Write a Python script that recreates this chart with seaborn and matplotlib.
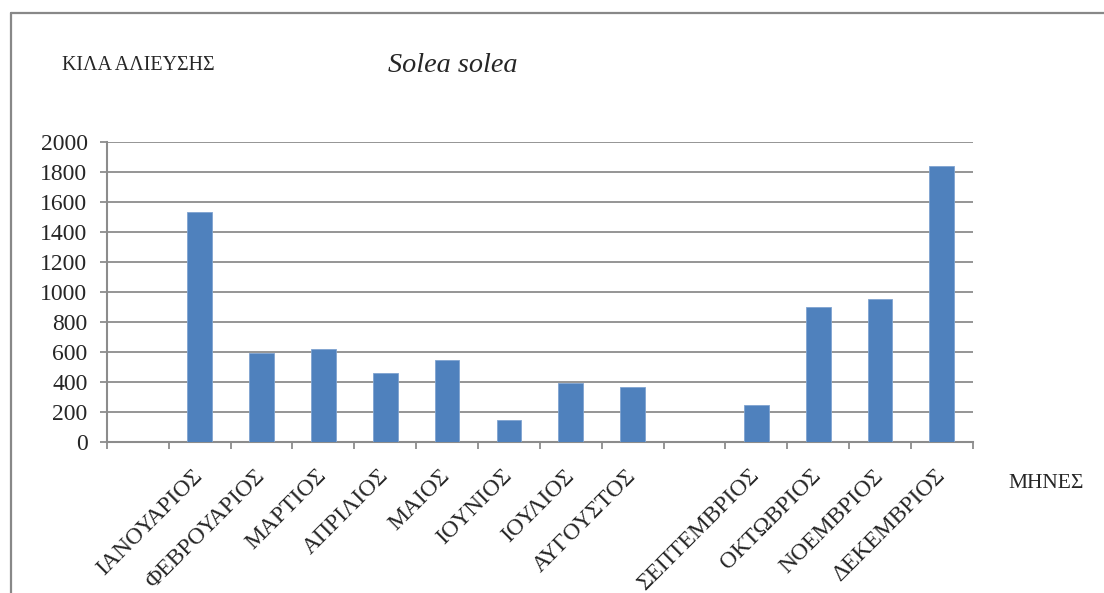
import matplotlib
matplotlib.use("Agg")
import matplotlib.pyplot as plt
from matplotlib.lines import Line2D
from matplotlib.ticker import FixedLocator
import seaborn as sns
import pandas as pd
import numpy as np

# Data
months = ["ΙΑΝΟΥΑΡΙΟΣ", "ΦΕΒΡΟΥΑΡΙΟΣ", "ΜΑΡΤΙΟΣ", "ΑΠΡΙΛΙΟΣ", "ΜΑΙΟΣ", "ΙΟΥΝΙΟΣ",
          "ΙΟΥΛΙΟΣ", "ΑΥΓΟΥΣΤΟΣ", "ΣΕΠΤΕΜΒΡΙΟΣ", "ΟΚΤΩΒΡΙΟΣ", "ΝΟΕΜΒΡΙΟΣ", "ΔΕΚΕΜΒΡΙΟΣ"]
kilos = [1530, 595, 622, 463, 548, 146, 395, 368, 250, 900, 952, 1835]
# slot order as in the original chart (two empty category slots)
slot_order = [""] + months[:8] + [" "] + months[8:]
y_ticks = [0, 200, 400, 600, 800, 1000, 1200, 1400, 1600, 1800, 2000]

sns.set_theme(style="white")
plt.rcParams["font.family"] = ["Liberation Serif", "DejaVu Serif"]

df = pd.DataFrame({"month": months, "kilos": kilos})

fig = plt.figure(figsize=(11.04, 5.93), dpi=100)
ax = fig.add_axes([0.0969, 0.2541, 0.7842, 0.5070])

sns.barplot(data=df, x="month", y="kilos", order=slot_order, color="#4F81BD",
            width=0.4, saturation=1, edgecolor="#7FA3D0", linewidth=0.6, ax=ax, zorder=3)

grid_col = "#8C8C8C"
ax.set_ylim(0, 2000)
ax.set_xlim(-0.5, len(slot_order) - 0.5)
ax.yaxis.set_major_locator(FixedLocator(y_ticks))
ax.yaxis.grid(True, color=grid_col, linewidth=1.3, zorder=0)
ax.set_axisbelow(True)

for s in ["top", "right"]:
    ax.spines[s].set_visible(False)
for s in ["left", "bottom"]:
    ax.spines[s].set_visible(True)
    ax.spines[s].set_color(grid_col)
    ax.spines[s].set_linewidth(1.5)

ax.set_yticklabels([str(v) for v in y_ticks], fontsize=17)
ax.tick_params(axis="y", which="major", length=5, width=1.3, color=grid_col,
               pad=9, left=True, direction="out")

# category labels at centers; tick marks at boundaries
ax.set_xticks(np.arange(len(slot_order)))
ax.set_xticklabels(slot_order, fontsize=17, rotation=45, ha="right",
                   rotation_mode="anchor", va="center")
ax.tick_params(axis="x", which="major", length=0, pad=22)
ax.xaxis.set_minor_locator(FixedLocator(np.arange(len(slot_order) + 1) - 0.5))
ax.tick_params(axis="x", which="minor", length=5, width=1.3, color=grid_col,
               bottom=True, direction="out")

ax.set_xlabel("")
ax.set_ylabel("")

fig.text(62 / 1104, 1 - 66 / 593, "ΚΙΛΑ ΑΛΙΕΥΣΗΣ", fontsize=14.4, va="center", ha="left")
fig.text(388 / 1104, 1 - 66 / 593, "Solea solea", fontsize=20.3, style="italic",
         va="center", ha="left")
fig.text(1008 / 1104, 1 - 483 / 593, "ΜΗΝΕΣ", fontsize=15.5, va="center", ha="left")

# outer frame (cut off at right and bottom)
fig.add_artist(Line2D([11 / 1104, 1.0], [1 - 13 / 593, 1 - 13 / 593],
                      transform=fig.transFigure, color="#888888", linewidth=1.6))
fig.add_artist(Line2D([11 / 1104, 11 / 1104], [0.0, 1 - 13 / 593],
                      transform=fig.transFigure, color="#888888", linewidth=1.6))

fig.savefig("out.png", dpi=100, facecolor="white")
